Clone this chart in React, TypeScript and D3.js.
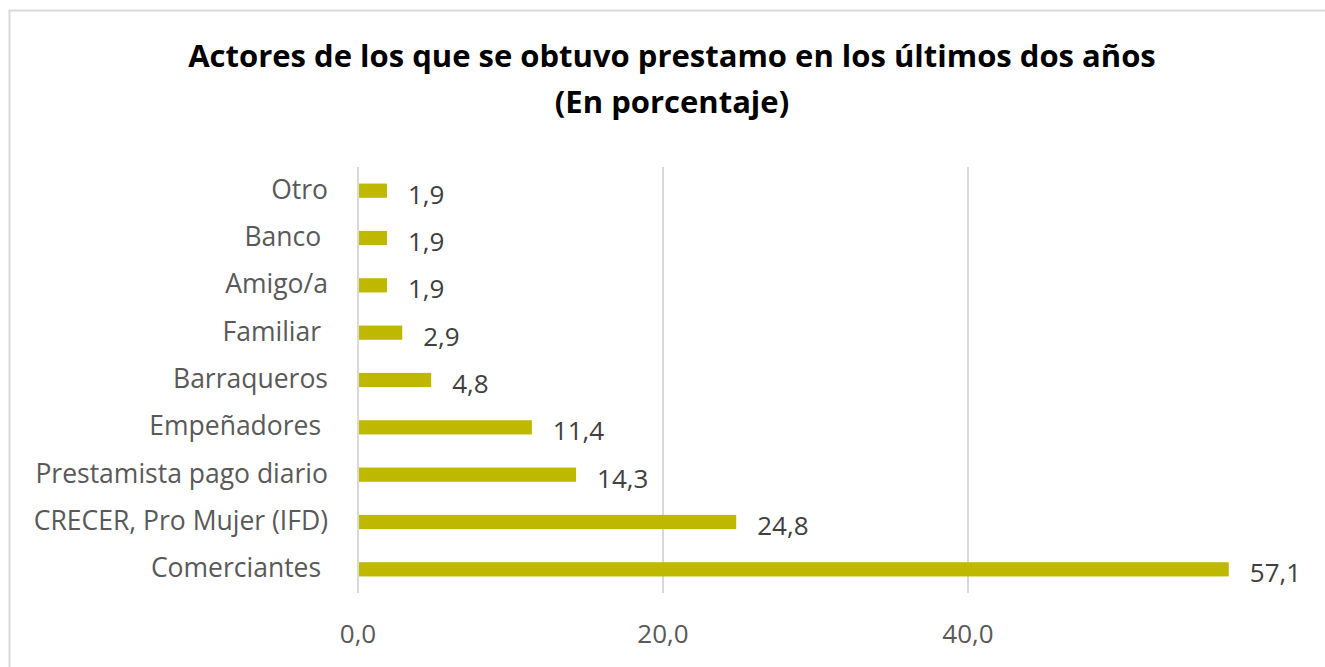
import React, { useEffect, useRef } from "react";
import * as d3 from "d3";

const categories = [
  "Otro",
  "Banco ",
  "Amigo/a",
  "Familiar ",
  "Barraqueros",
  "Empeñadores ",
  "Prestamista pago diario",
  "CRECER, Pro Mujer (IFD)",
  "Comerciantes ",
];
const values = [1.9, 1.9, 1.9, 2.9, 4.8, 11.4, 14.3, 24.8, 57.1];
const tickValues = [0, 20, 40];
const titleLines = [
  "Actores de los que se obtuvo prestamo en los últimos dos años",
  "(En porcentaje)",
];

const W = 1325;
const H = 667;
const FONT = "'Open Sans', 'Noto Sans', sans-serif";

export default function App() {
  const ref = useRef<SVGSVGElement | null>(null);

  useEffect(() => {
    document.body.style.margin = "0";
    const svg = d3.select(ref.current);
    svg.selectAll("*").remove();

    svg
      .append("rect")
      .attr("x", 9.5)
      .attr("y", 10.5)
      .attr("width", W + 20)
      .attr("height", H + 20)
      .attr("fill", "white")
      .attr("stroke", "#D9D9D9")
      .attr("stroke-width", 2);

    const x = d3.scaleLinear().domain([0, 20]).range([358, 663]);
    const y = d3
      .scaleBand<string>()
      .domain(categories)
      .range([167, 593])
      .paddingInner(0.7)
      .paddingOuter(0.35);

    // title
    svg
      .append("g")
      .selectAll("text")
      .data(titleLines)
      .join("text")
      .attr("x", 672)
      .attr("y", (_, i) => 67 + i * 46)
      .attr("text-anchor", "middle")
      .attr("font-family", FONT)
      .attr("font-weight", "bold")
      .attr("font-size", 31)
      .attr("fill", "#000")
      .text((d) => d);

    // gridlines
    svg
      .append("g")
      .selectAll("line")
      .data(tickValues)
      .join("line")
      .attr("x1", (d) => x(d))
      .attr("x2", (d) => x(d))
      .attr("y1", 167)
      .attr("y2", 593)
      .attr("stroke", "#D9D9D9")
      .attr("stroke-width", 2);

    // tick labels
    svg
      .append("g")
      .selectAll("text")
      .data(tickValues)
      .join("text")
      .attr("x", (d) => x(d))
      .attr("y", 643)
      .attr("text-anchor", "middle")
      .attr("font-family", FONT)
      .attr("font-size", 26)
      .attr("fill", "#595959")
      .text((d) => d3.format(".1f")(d).replace(".", ","));

    // bars
    svg
      .append("g")
      .selectAll("rect")
      .data(values)
      .join("rect")
      .attr("x", x(0) + 1)
      .attr("y", (_, i) => y(categories[i])!)
      .attr("width", (d) => x(d) - x(0) - 1)
      .attr("height", y.bandwidth())
      .attr("fill", "#BFB800");

    // category labels
    svg
      .append("g")
      .selectAll("text")
      .data(categories)
      .join("text")
      .attr("x", 328)
      .attr("y", (d) => y(d)! + y.bandwidth() / 2 + 8)
      .attr("text-anchor", "end")
      .attr("font-family", FONT)
      .attr("font-size", 26.5)
      .attr("fill", "#595959")
      .attr("xml:space", "preserve")
      .style("white-space", "pre")
      .text((d) => d);

    // data labels
    svg
      .append("g")
      .selectAll("text")
      .data(values)
      .join("text")
      .attr("x", (d) => x(d) + 21)
      .attr("y", (_, i) => y(categories[i])! + y.bandwidth() / 2 + 13)
      .attr("font-family", FONT)
      .attr("font-size", 26)
      .attr("fill", "#404040")
      .text((d) => d3.format(".1f")(d).replace(".", ","));
  }, []);

  return (
    <svg
      ref={ref}
      width={W}
      height={H}
      style={{ display: "block", background: "white" }}
    />
  );
}
